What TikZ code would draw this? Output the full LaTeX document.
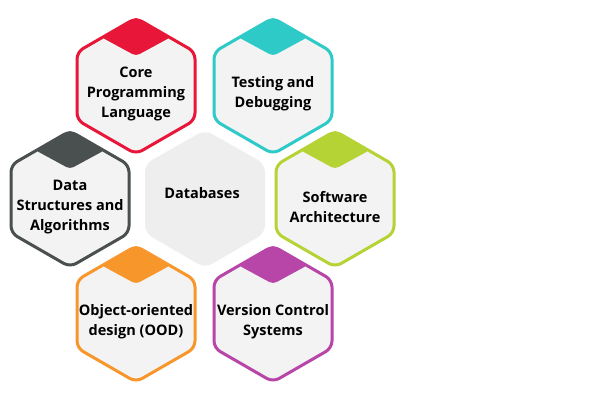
\documentclass[tikz,border=0pt]{standalone}
\usepackage{fontspec}
\setmainfont{Open Sans}
\definecolor{cred}{HTML}{E8173A}
\definecolor{cteal}{HTML}{2ECAC8}
\definecolor{cdark}{HTML}{4A4F4F}
\definecolor{cgreen}{HTML}{B5D334}
\definecolor{corange}{HTML}{F7962A}
\definecolor{cpurple}{HTML}{B845A8}
\definecolor{hexfill}{HTML}{F3F3F3}
\tikzset{lbl/.style={align=center,font=\bfseries\fontsize{14.5}{20}\selectfont,text=black}}
\newcommand\myhex[4]{%
  \draw[#2,line width=3pt,rounded corners=7pt] ($(#1)+(0,-68)$) -- ($(#1)+(59,-34)$) -- ($(#1)+(59,34)$) -- ($(#1)+(0,68)$) -- ($(#1)+(-59,34)$) -- ($(#1)+(-59,-34)$) -- cycle;
  \fill[#2,rounded corners=4pt] ($(#1)+(0,-69)$) -- ($(#1)+(-35,-49)$) -- ($(#1)+(0,-30)$) -- ($(#1)+(35,-49)$) -- cycle;
  \node[lbl] (#3) at ($(#1)+(0,8)$) {#4};}
\usetikzlibrary{calc}
\begin{document}
\begin{tikzpicture}[x=1pt,y=-1pt]
\useasboundingbox (0,0) rectangle (600,400);
\fill[white] (0,0) rectangle (600,400);
\foreach \c in {(136,86),(273,86),(70,199),(335,199),(136,314),(273,314)}{
  \fill[hexfill,rounded corners=7pt] \c ++(0,-68) -- ++(59,34) -- ++(0,68) -- ++(-59,34) -- ++(-59,-34) -- ++(0,-68) -- cycle;}
\fill[hexfill!95!black!40!hexfill,rounded corners=8pt] (205,130) -- (265,164) -- (265,233) -- (205,268) -- (145,233) -- (145,164) -- cycle;
\node[lbl] (db) at (202,193) {Databases};
\coordinate (p1) at (136,86); \myhex{p1}{cred}{core}{Core\\Programming\\Language}
\coordinate (p2) at (273,86); \myhex{p2}{cteal}{test}{Testing and\\Debugging}
\coordinate (p3) at (70,199); \myhex{p3}{cdark}{dsa}{Data\\Structures and\\Algorithms}
\coordinate (p4) at (335,199); \myhex{p4}{cgreen}{arch}{Software\\Architecture}
\coordinate (p5) at (136,314); \myhex{p5}{corange}{ood}{Object-oriented\\design (OOD)}
\coordinate (p6) at (273,314); \myhex{p6}{cpurple}{vcs}{Version Control\\Systems}
\end{tikzpicture}
\end{document}
